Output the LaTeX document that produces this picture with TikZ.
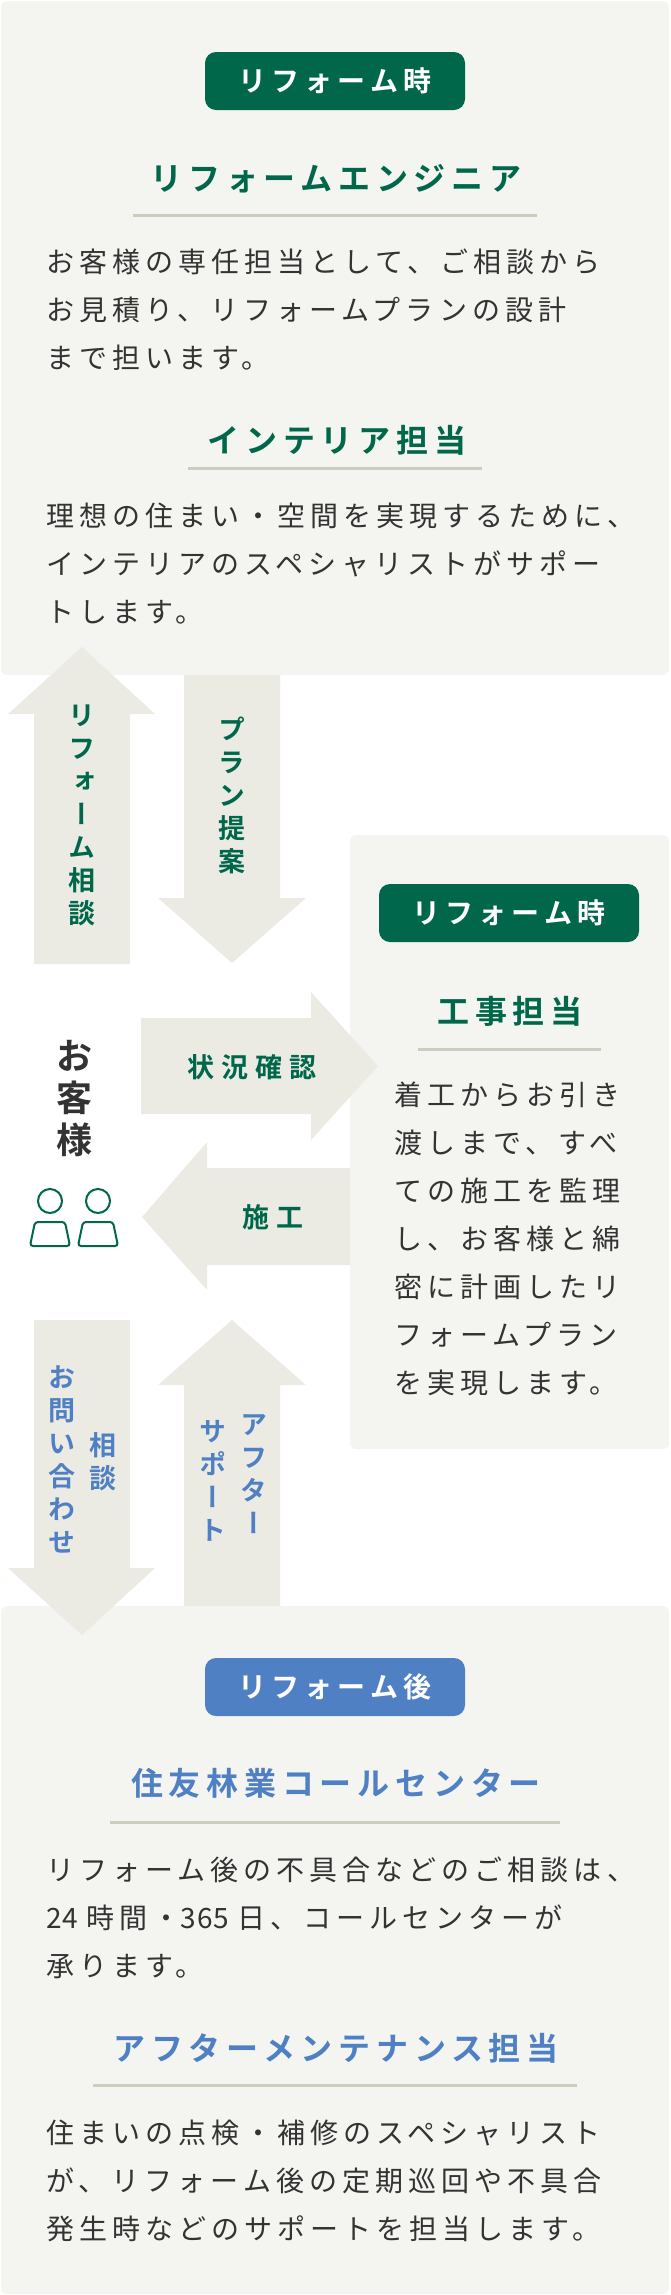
\documentclass[tikz,border=0pt]{standalone}
\usepackage{fontspec}
\setmainfont{Noto Sans CJK JP}[BoldFont={Noto Sans CJK JP Bold}]
\newfontfamily\bodyf{Noto Sans CJK JP}[LetterSpace=18]
\newfontfamily\digf{Noto Sans CJK JP}[LetterSpace=4]
\newfontfamily\titlef{Noto Sans CJK JP Bold}[LetterSpace=18]
\newfontfamily\hlabf{Noto Sans CJK JP Bold}[LetterSpace=26]
\newfontfamily\pillf{Noto Sans CJK JP Bold}[LetterSpace=18]
\newfontfamily\vertf{Noto Sans CJK JP Bold}[RawFeature=+vert]
\definecolor{panel}{HTML}{F4F4F0}
\definecolor{arrowc}{HTML}{EBEBE4}
\definecolor{grn}{HTML}{00674A}
\definecolor{blu}{HTML}{5080C4}
\definecolor{uline}{HTML}{CDCDBF}
\definecolor{txt}{HTML}{333333}
\tikzset{
  panelbox/.style={fill=panel,rounded corners=6pt},
  arr/.style={fill=arrowc},
  pill/.style={rounded corners=11pt,minimum width=260pt,minimum height=58pt,inner sep=0pt,text=white,font=\pillf\fontsize{28}{28}\selectfont},
  title/.style={inner sep=0pt,font=\titlef\fontsize{32}{32}\selectfont},
  hlab/.style={inner sep=0pt,font=\hlabf\fontsize{27}{27}\selectfont},
  body/.style={inner sep=0pt,anchor=west,text=txt,font=\bodyf\fontsize{28}{28}\selectfont},
  vtext/.style={inner sep=0pt,align=center,font=\vertf\fontsize{27}{33}\selectfont},
  ul/.style={uline,line width=3pt},
  person/.style={grn,line width=2pt}
}
\begin{document}
\begin{tikzpicture}[x=1pt,y=-1pt]
\useasboundingbox (0,0) rectangle (670,2295);
% panels
\fill[panelbox] (1,1) rectangle (669,675);
\fill[panelbox] (350,835) rectangle (669,1449);
\fill[panelbox] (1,1606) rectangle (669,2294);
% top panel
\node[pill,fill=grn] (p1) at (335,81) {リフォーム時};
\node[title,text=grn] (t1) at (336,179) {リフォームエンジニア};
\draw[ul] (133,215) -- (537,215);
\foreach \t [count=\i] in {お客様の専任担当として、ご相談から,お見積り、リフォームプランの設計,まで担います。}
  \node[body] (a\i) at (46,262+48*\i-48) {\t};
\node[title,text=grn] (t2) at (337,440) {インテリア担当};
\draw[ul] (188,468) -- (482,468);
\foreach \t [count=\i] in {理想の住まい・空間を実現するために、,インテリアのスペシャリストがサポー,トします。}
  \node[body] (b\i) at (46,516+48*\i-48) {\t};
% upper arrows
\fill[arr] (82,647) -- (155,714) -- (130,714) -- (130,964) -- (34,964) -- (34,714) -- (8,714) -- cycle;
\node[vtext,text=grn] (v1) at (82,815) {リ\\フ\\ォ\\ー\\ム\\相\\談};
\fill[arr] (184,675) -- (280,675) -- (280,898) -- (306,898) -- (232,963) -- (158,898) -- (184,898) -- cycle;
\node[vtext,text=grn] (v2) at (232,795) {プ\\ラ\\ン\\提\\案};
% right panel
\node[pill,fill=grn] (p2) at (509,913) {リフォーム時};
\node[title,text=grn] (t3) at (510,1011) {工事担当};
\draw[ul] (418,1049) -- (601,1049);
\foreach \t [count=\i] in {着工からお引き,渡しまで、すべ,ての施工を監理,し、お客様と綿,密に計画したリ,フォームプラン,を実現します。}
  \node[body] (c\i) at (394,1095+48*\i-48) {\t};
% horizontal arrows
\fill[arr] (141,1018) -- (311,1018) -- (311,992) -- (378,1066) -- (311,1140) -- (311,1114) -- (141,1114) -- cycle;
\node[hlab,text=grn] (h1) at (252,1067) {状況確認};
\fill[arr] (350,1168) -- (207,1168) -- (207,1142) -- (142,1217) -- (207,1290) -- (207,1265) -- (350,1265) -- cycle;
\node[hlab,text=grn] (h2) at (273,1217) {施工};
% customer
\node[inner sep=0pt,align=center,text=txt,font=\bfseries\fontsize{36}{42}\selectfont] (cust) at (74,1099) {お\\客\\様};
\foreach \cx in {50,98}{
  \draw[person] (\cx,1201) circle (12);
  \draw[person,rounded corners=3pt] (\cx-20,1246) -- (\cx-15,1222) -- (\cx+15,1222) -- (\cx+20,1246) -- cycle;
}
% lower arrows
\fill[arr] (34,1320) -- (130,1320) -- (130,1568) -- (155,1568) -- (82,1635) -- (8,1568) -- (34,1568) -- cycle;
\node[vtext,text=blu,anchor=north] (v3) at (62,1366) {お\\問\\い\\合\\わ\\せ};
\node[vtext,text=blu,anchor=north] (v4) at (103,1432) {相\\談};
\fill[arr] (232,1320) -- (306,1385) -- (280,1385) -- (280,1606) -- (184,1606) -- (184,1385) -- (158,1385) -- cycle;
\node[vtext,text=blu,anchor=north] (v5) at (254,1414) {ア\\フ\\タ\\ー};
\node[vtext,text=blu,anchor=north] (v6) at (213,1420) {サ\\ポ\\ー\\ト};
% bottom panel
\node[pill,fill=blu] (p3) at (335,1687) {リフォーム後};
\node[title,text=blu] (t4) at (336,1783) {住友林業コールセンター};
\draw[ul] (110,1822) -- (560,1822);
\node[body] (d1) at (46,1870) {リフォーム後の不具合などのご相談は、};
\node[body] (d2) at (46,1918) {{\digf 24}\hspace{8pt}時間・{\digf 365}\hspace{8pt}日、コールセンターが};
\node[body] (d3) at (46,1967) {承ります。};
\node[title,text=blu] (t5) at (336,2048) {アフターメンテナンス担当};
\draw[ul] (93,2085) -- (577,2085);
\foreach \t [count=\i] in {住まいの点検・補修のスペシャリスト,が、リフォーム後の定期巡回や不具合,発生時などのサポートを担当します。}
  \node[body] (e\i) at (46,2133+48*\i-48) {\t};
\end{tikzpicture}
\end{document}
